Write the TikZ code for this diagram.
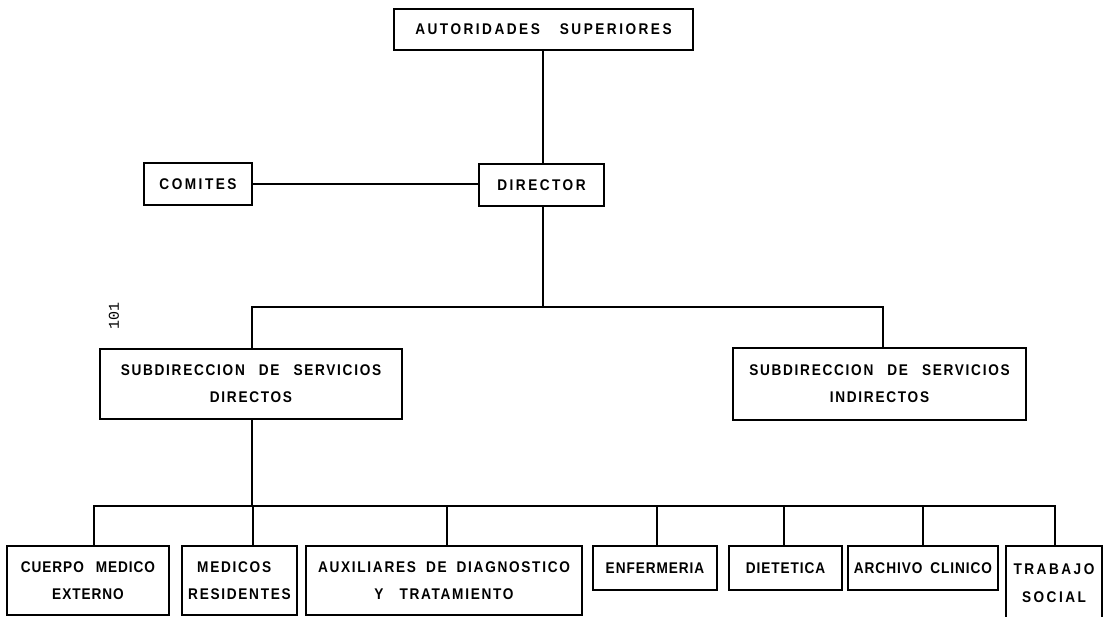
\documentclass[tikz,border=0pt]{standalone}
\usepackage{fontspec}
\newfontfamily\lett{Liberation Sans}[LetterSpace=6, FakeStretch=0.88]
\newfontfamily\lettm{Liberation Sans}[LetterSpace=11, FakeStretch=0.88]
\newfontfamily\lettw{Liberation Sans}[LetterSpace=16, FakeStretch=0.88]
\newfontfamily\pnum{Liberation Mono}
\newcommand{\gapw}{\hspace{10pt}}
\begin{document}
\begin{tikzpicture}[x=1pt,y=-1pt,
  box/.style={draw, line width=2pt, inner sep=0pt, align=center,
    font=\lett\bfseries\fontsize{15.5}{27}\selectfont},
  boxm/.style={box, font=\lettm\bfseries\fontsize{15.5}{27}\selectfont},
  boxw/.style={box, font=\lettw\bfseries\fontsize{15.5}{28}\selectfont},
  conn/.style={line width=2pt}]
\fill[white] (0,0) rectangle (1103,616);
\useasboundingbox (0,0) rectangle (1103,616);

% boxes
\node[boxw, minimum width=299pt, minimum height=41pt] (auto) at (543.5,29.5) {AUTORIDADES\hspace{20pt}SUPERIORES};
\node[boxw, minimum width=108pt, minimum height=42pt] (comites) at (198,184) {COMITES};
\node[boxw, minimum width=125pt, minimum height=42pt] (dir) at (541.5,185) {DIRECTOR};
\node[boxm, minimum width=302pt, minimum height=70pt] (sd) at (251,384) {SUBDIRECCION\hspace{14pt}DE\hspace{14pt}SERVICIOS\\DIRECTOS};
\node[boxm, minimum width=293pt, minimum height=72pt] (si) at (879.5,384) {SUBDIRECCION\hspace{14pt}DE\hspace{14pt}SERVICIOS\\INDIRECTOS};
\node[box, minimum width=162pt, minimum height=69pt] (cuerpo) at (88,580.5) {CUERPO\hspace{12pt}MEDICO\\EXTERNO};
\node[boxm, minimum width=115pt, minimum height=69pt, align=left] (medicos) at (239.5,580.5) {\hspace*{9pt}MEDICOS\\RESIDENTES};
\node[boxm, minimum width=276pt, minimum height=69pt] (aux) at (444,580.5) {AUXILIARES\gapw DE\gapw DIAGNOSTICO\\Y\hspace{16pt}TRATAMIENTO};
\node[box, minimum width=124pt, minimum height=44pt] (enf) at (655,568) {ENFERMERIA};
\node[box, minimum width=113pt, minimum height=44pt] (diet) at (785.5,568) {DIETETICA};
\node[box, minimum width=150pt, minimum height=44pt] (arch) at (923,568) {ARCHIVO\hspace{8pt}CLINICO};
\node[boxw, minimum width=96pt, minimum height=74pt] (trab) at (1054,583) {TRABAJO\\SOCIAL};

% page number
\node[font=\pnum\fontsize{15}{15}\selectfont, rotate=90, inner sep=0pt] (pg) at (114,316) {101};

% connectors
\coordinate (xa) at (543,0);
\draw[conn] (auto.south -| xa) -- (dir.north -| xa);
\draw[conn] (comites.east) -- (comites.east -| dir.west);
\coordinate (j1) at (543,307);
\draw[conn] (dir.south -| j1) -- (j1);
\coordinate (l1) at (252,307);
\coordinate (r1) at (883,307);
\draw[conn] (sd.north -| l1) -- (l1) -- (r1) -- (si.north -| r1);
\coordinate (j2) at (252,506);
\draw[conn] (sd.south -| j2) -- (j2);
\coordinate (b1) at (94,506);
\coordinate (b2) at (253,506);
\coordinate (b3) at (447,506);
\coordinate (b4) at (657,506);
\coordinate (b5) at (784,506);
\coordinate (b6) at (923,506);
\coordinate (b7) at (1055,506);
\draw[conn, line cap=rect] (b1) -- (b7);
\foreach \c/\n in {b1/cuerpo, b2/medicos, b3/aux, b4/enf, b5/diet, b6/arch, b7/trab}
  \draw[conn] (\c) -- (\n.north -| \c);
\end{tikzpicture}
\end{document}
